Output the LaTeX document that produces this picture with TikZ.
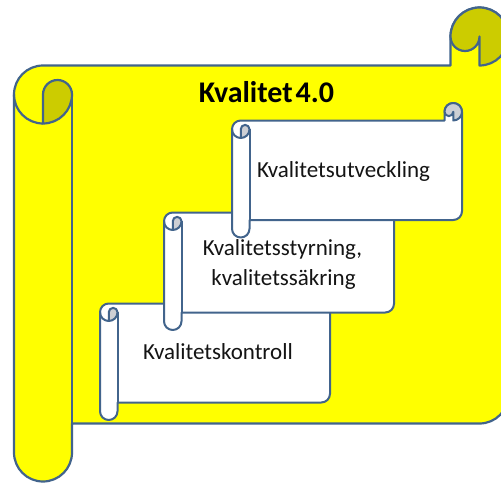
\documentclass[tikz,border=0pt]{standalone}
\usepackage{fontspec}
\setmainfont{Carlito}
\definecolor{outl}{RGB}{66,100,140}
\definecolor{yel}{RGB}{255,255,0}
\definecolor{olive}{RGB}{204,204,0}
\definecolor{curlgrey}{RGB}{205,207,212}
% l t r b c fill curlfill linewidth   (pixel coords, y downward)
\newcommand\scrollshape[8]{%
  \pgfmathsetmacro\sL{#1}%
  \pgfmathsetmacro\sR{#3}%
  \pgfmathsetmacro\sC{#5}%
  \pgfmathsetmacro\sH{#5/2}%
  \pgfmathsetmacro\sQ{#5/4}%
  \pgfmathsetmacro\yc{-(#2+#5)}%       body top
  \pgfmathsetmacro\ycl{-(#2+#5+#5/2)}% left circle centre
  \pgfmathsetmacro\yb{-(#4-#5)}%       body bottom
  \pgfmathsetmacro\ybh{-(#4-#5-#5/2)}% bottom-right corner centre
  \pgfmathsetmacro\yt{-(#2+#5/2)}%     right circle centre
  \pgfmathsetmacro\ybot{-(#4-#5/2)}%   roll bottom centre
  \begin{scope}[line width=#8, draw=outl, line join=round]
    \filldraw[fill=#6] (\sL,\ycl) arc[start angle=180,end angle=90,radius=\sH]
      -- (\sR-\sC,\yc) -- (\sR-\sC,\yt) arc[start angle=180,end angle=0,radius=\sH]
      -- (\sR,\ybh) arc[start angle=0,end angle=-90,radius=\sH]
      -- (\sL+\sC,\yb) -- (\sL+\sC,\ybot) arc[start angle=0,end angle=-180,radius=\sH]
      -- cycle;
    % left curl
    \filldraw[fill=#7] (\sL+\sH,\ycl) -- (\sL+\sH,\ycl-\sH)
      arc[start angle=-90,end angle=0,radius=\sH]
      arc[start angle=0,end angle=180,radius=\sQ] -- cycle;
    \draw (\sL,\ycl) arc[start angle=180,end angle=270,radius=\sH];
    \draw (\sL+\sC,\ycl) -- (\sL+\sC,\yb);
    % top right curl
    \filldraw[fill=#7] (\sR-\sC,\yt) arc[start angle=180,end angle=0,radius=\sH]
      arc[start angle=0,end angle=-90,radius=\sH] -- (\sR-\sH,\yt)
      arc[start angle=0,end angle=-180,radius=\sQ] -- cycle;
  \end{scope}}
\tikzset{
  lbl/.style={font=\fontsize{23}{28}\selectfont, anchor=base, inner sep=0pt, text=black!92},
  title/.style={font=\fontsize{30}{35}\selectfont\bfseries, anchor=base, inner sep=0pt}
}
\begin{document}
\begin{tikzpicture}[x=1pt,y=1pt]
  \useasboundingbox (0,0) rectangle (501,-483);
  \clip (0,0) rectangle (501,-483);
  \fill[white] (0,0) rectangle (501,-483);
  % large yellow scroll
  \scrollshape{14}{7.5}{508.5}{481.5}{58}{yel}{olive}{2.2pt}
  \node[title] (title) at (266.5,-102) {Kvalitet\hspace{0.1em}4.0};
  % three white scrolls, bottom to top
  \scrollshape{100}{286}{330}{420}{17.5}{white}{curlgrey}{2pt}
  \scrollshape{164}{195}{394}{330}{17.5}{white}{curlgrey}{2pt}
  \scrollshape{232}{103}{462}{237.5}{17.5}{white}{curlgrey}{2pt}
  \node[lbl] (kontroll) at (218,-359) {Kvalitetskontroll};
  \node[lbl] (styrA) at (282.5,-255.5) {Kvalitetsstyrning,};
  \node[lbl] (styrB) at (283.5,-285) {kvalitetssäkring};
  \node[lbl] (utv) at (343.5,-177) {Kvalitetsutveckling};
\end{tikzpicture}
\end{document}
